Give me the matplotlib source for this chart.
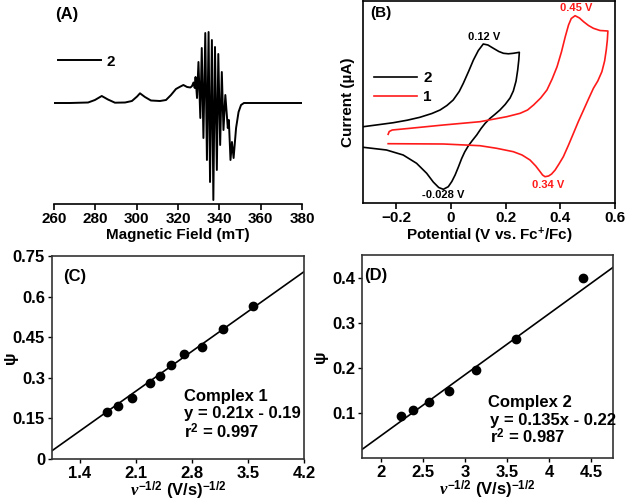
import matplotlib
matplotlib.use('Agg')
import matplotlib.pyplot as plt

plt.rcParams['font.family'] = 'Liberation Sans'
plt.rcParams['font.weight'] = 'bold'
plt.rcParams['mathtext.fontset'] = 'custom'
plt.rcParams['mathtext.rm'] = 'Liberation Sans:bold'
plt.rcParams['mathtext.bf'] = 'Liberation Sans:bold'
plt.rcParams['mathtext.it'] = 'Liberation Serif:bold:italic'

# (A) EPR spectrum of 2
epr_field = [260.0, 267.7, 276.5, 279.8, 283.1, 286.1, 289.5, 294.4, 297.7, 300.2,
             301.6, 304.0, 306.9, 311.3, 314.2, 316.6, 319.0, 321.0, 322.6, 324.4,
             326.0, 326.8, 327.5, 328.1, 328.5, 329.2, 329.9, 330.8, 331.5, 332.3,
             333.2, 334.0, 334.8, 335.5, 336.4, 337.1, 337.9, 338.8, 339.5, 340.4,
             341.2, 342.0, 342.9, 344.1, 344.6, 345.4, 346.1, 346.9, 348.1, 349.3,
             350.5, 351.9, 354.8, 380.0]
epr_signal = [0, 0, 0.5, 3, 7, 3.5, 0.3, 0.5, 2, 6.5,
              9.7, 6, 2.5, 2, 3, 8, 14, 16.3, 18, 16,
              15.5, 17, 20.5, 15, 26, 5, 41, -15, 55, -35,
              70, -57, 71, -79, 63, -97, 56, -67, 49, -42,
              31, -27, 8, -25, -17, -57, -39, -55, -25, -9,
              -2, 0, 0, 0]

# (B) cyclic voltammograms
cv2_v = [-0.321, -0.260, -0.211, -0.160, -0.114, -0.070, -0.040, -0.015, 0.008, 0.030,
         0.045, 0.065, 0.082, 0.100, 0.118, 0.135, 0.155, 0.175, 0.192, 0.210, 0.228, 0.250,
         0.248, 0.244, 0.238, 0.228, 0.216, 0.198, 0.179, 0.160, 0.143, 0.125, 0.110, 0.094,
         0.078, 0.063, 0.050, 0.039, 0.027, 0.015, 0.003, -0.010, -0.028, -0.045, -0.065,
         -0.089, -0.126, -0.175, -0.236, -0.321]
cv2_i = [1.33, 1.55, 1.73, 1.98, 2.27, 2.65, 3.0, 3.45, 4.0, 4.85,
         5.67, 6.9, 8.0, 8.95, 9.6, 9.5, 9.17, 8.85, 8.67, 8.62, 8.67, 8.77,
         8.0, 7.0, 5.9, 4.9, 4.2, 3.55, 3.0, 2.55, 2.17, 1.67, 1.15, 0.5,
         -0.05, -0.6, -1.2, -1.85, -2.7, -3.5, -4.15, -4.67, -4.93, -4.75, -4.2,
         -3.33, -2.33, -1.5, -1.0, -0.73]
cv1_v = [-0.230, -0.226, -0.215, -0.150, -0.028, 0.106, 0.204, 0.253, 0.280, 0.302,
         0.328, 0.351, 0.370, 0.388, 0.404, 0.418, 0.430, 0.440, 0.454, 0.470, 0.485,
         0.503, 0.521, 0.545, 0.574, 0.572, 0.568, 0.562, 0.552, 0.537, 0.521, 0.503,
         0.485, 0.466, 0.448, 0.430, 0.411, 0.395, 0.381, 0.368, 0.357, 0.344, 0.335,
         0.326, 0.310, 0.289, 0.260, 0.228, 0.167, 0.106, -0.028, -0.230]
cv1_i = [0.57, 0.85, 1.0, 1.17, 1.5, 1.83, 2.33, 2.67, 3.0, 3.5,
         4.2, 5.0, 6.1, 7.33, 8.8, 10.33, 11.5, 12.15, 12.43, 12.2, 11.83,
         11.45, 11.17, 10.95, 10.9, 10.0, 9.0, 7.9, 6.83, 5.9, 5.17, 4.1,
         3.0, 1.85, 0.67, -0.5, -1.67, -2.4, -3.0, -3.4, -3.6, -3.67, -3.5,
         -3.17, -2.6, -2.0, -1.5, -1.17, -0.83, -0.57, -0.4, -0.37]

# (C) complex 1
c_x = [1.74, 1.87, 2.05, 2.275, 2.40, 2.54, 2.70, 2.92, 3.19, 3.56]
c_y = [0.172, 0.197, 0.226, 0.282, 0.307, 0.347, 0.387, 0.415, 0.479, 0.564]
c_fit = (0.21, -0.19)

# (D) complex 2
d_x = [2.23, 2.38, 2.565, 2.806, 3.126, 3.604, 4.40]
d_y = [0.093, 0.106, 0.124, 0.148, 0.196, 0.263, 0.398]
d_fit = (0.135, -0.22)

W, H = 627, 501
fig = plt.figure(figsize=(W / 100, H / 100), dpi=100)

def box(l, t, r, b):
    return [l / W, 1 - b / H, (r - l) / W, (b - t) / H]

# ---- (A)
axA = fig.add_axes(box(54, 5, 302, 204))
axA.plot(epr_field, epr_signal, color='black', lw=1.4, label='2')
axA.set_xlim(260, 380)
axA.set_ylim(-101, 98)
axA.set_xticks(range(260, 381, 20))
axA.set_yticks([])
for s in ['left', 'top', 'right']:
    axA.spines[s].set_visible(False)
axA.spines['bottom'].set_linewidth(1.2)
axA.tick_params(axis='x', labelsize=11, length=4, width=1.2, pad=2)
axA.set_xlabel('Magnetic Field (mT)', fontsize=11, fontweight='bold', labelpad=1)
axA.legend(loc='upper left', bbox_to_anchor=(-0.04, 0.82), frameon=False,
           handlelength=2.8, fontsize=11, handletextpad=0.4)
fig.text(55 / W, 1 - 15 / H, '(A)', fontsize=12, fontweight='bold', va='center')

# ---- (B)
axB = fig.add_axes(box(363, 1, 615, 203))
axB.plot(cv2_v, cv2_i, color='black', lw=1.2, label='2')
axB.plot(cv1_v, cv1_i, color='#ff1a1a', lw=1.2, label='1')
axB.set_xlim(-0.322, 0.6)
axB.set_ylim(-6.3, 13.9)
axB.set_xticks([-0.2, 0, 0.2, 0.4, 0.6])
axB.set_xticklabels(['\u22120.2', '0', '0.2', '0.4', '0.6'])
axB.set_yticks([])
for s in axB.spines.values():
    s.set_linewidth(1.2)
axB.tick_params(axis='x', labelsize=11, length=4, width=1.2, pad=2)
axB.set_xlabel('Potential (V vs. Fc$^{+}$/Fc)', fontsize=11, fontweight='bold', labelpad=1)
axB.set_ylabel('Current (\u00b5A)', fontsize=11, fontweight='bold', labelpad=6)
axB.legend(loc='upper left', bbox_to_anchor=(-0.01, 0.72), frameon=False,
           handlelength=2.8, fontsize=11, handletextpad=0.4, labelspacing=0.3)
axB.text(0.03, 0.92, '(B)', transform=axB.transAxes, fontsize=11, fontweight='bold')
axB.text(0.121, 10.3, '0.12 V', fontsize=8, ha='center', va='center')
axB.text(-0.027, -5.5, '-0.028 V', fontsize=8, ha='center', va='center')
axB.text(0.458, 13.2, '0.45 V', fontsize=8, ha='center', va='center', color='#ff1a1a')
axB.text(0.355, -4.5, '0.34 V', fontsize=8, ha='center', va='center', color='#ff1a1a')

# ---- (C)
axC = fig.add_axes(box(52, 256, 304, 459))
axC.plot(c_x, c_y, 'o', color='black', ms=6)
xs = [1.05, 4.2]
axC.plot(xs, [c_fit[0] * x + c_fit[1] for x in xs], color='black', lw=1.2)
axC.set_xlim(1.05, 4.2)
axC.set_ylim(0, 0.75)
axC.set_xticks([1.4, 2.1, 2.8, 3.5, 4.2])
axC.set_xticklabels(['1.4', '2.1', '2.8', '3.5', '4.2'])
axC.set_yticks([0, 0.15, 0.3, 0.45, 0.6, 0.75])
axC.set_yticklabels(['0', '0.15', '0.3', '0.45', '0.6', '0.75'])
axC.tick_params(labelsize=12, length=3, width=1, pad=2)
for s in axC.spines.values():
    s.set_linewidth(1.2)
    s.set_color('#333333')
axC.set_xlabel(r'$\nu^{-1/2}$ (V/s)$^{-1/2}$', fontsize=12, fontweight='bold', labelpad=-1)
axC.set_ylabel('\u03c8', fontsize=12, fontweight='bold', va='center')
axC.yaxis.set_label_coords(-0.165, 0.5)
axC.text(0.045, 0.90, '(C)', transform=axC.transAxes, fontsize=12, fontweight='bold', va='center')
axC.text(0.524, 0.215, 'Complex 1\ny = 0.21x - 0.19\nr$^{2}$ = 0.997', transform=axC.transAxes,
         fontsize=12, fontweight='bold', va='center', linespacing=1.1)

# ---- (D)
axD = fig.add_axes(box(362, 255, 613, 458))
axD.plot(d_x, d_y, 'o', color='black', ms=6)
xs = [1.77, 4.76]
axD.plot(xs, [d_fit[0] * x + d_fit[1] for x in xs], color='black', lw=1.2)
axD.set_xlim(1.77, 4.76)
axD.set_ylim(0, 0.45)
axD.set_xticks([2, 2.5, 3, 3.5, 4, 4.5])
axD.set_xticklabels(['2', '2.5', '3', '3.5', '4', '4.5'])
axD.set_yticks([0.1, 0.2, 0.3, 0.4])
axD.set_yticklabels(['0.1', '0.2', '0.3', '0.4'])
axD.tick_params(labelsize=12, length=3, width=1, pad=2)
for s in axD.spines.values():
    s.set_linewidth(1.2)
    s.set_color('#333333')
axD.set_xlabel(r'$\nu^{-1/2}$ (V/s)$^{-1/2}$', fontsize=12, fontweight='bold', labelpad=-1)
axD.set_ylabel('\u03c8', fontsize=12, fontweight='bold', labelpad=3)
axD.text(0.01, 0.90, '(D)', transform=axD.transAxes, fontsize=12, fontweight='bold', va='center')
axD.text(0.50, 0.272, 'Complex 2', transform=axD.transAxes,
         fontsize=12, fontweight='bold', va='center')
axD.text(0.51, 0.187, 'y = 0.135x - 0.22', transform=axD.transAxes,
         fontsize=12, fontweight='bold', va='center')
axD.text(0.51, 0.105, 'r$^{2}$ = 0.987', transform=axD.transAxes,
         fontsize=12, fontweight='bold', va='center')

fig.savefig('out.png', dpi=100)
